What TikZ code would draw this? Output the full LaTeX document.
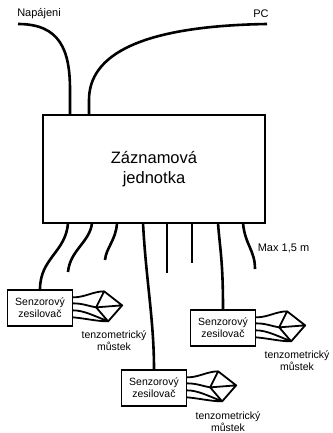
\documentclass[tikz,border=0pt]{standalone}
\usepackage{fontspec}
\setmainfont{Liberation Sans}
\begin{document}
\begin{tikzpicture}[x=1pt,y=-1pt,
  unit/.style={draw,line width=1.6pt,minimum width=222pt,minimum height=108pt,
    align=center,inner sep=0pt,font=\fontsize{16.5}{20}\selectfont},
  amp/.style={draw,line width=1.3pt,minimum width=65pt,minimum height=36pt,
    align=center,inner sep=0pt,font=\fontsize{10.5}{12}\selectfont},
  cable/.style={line width=2.6pt},
  lbl/.style={font=\fontsize{10.5}{12}\selectfont,align=center,inner sep=0pt},
  gauge/.pic={
    % strain gauge bridge fed by four leads from the amplifier's right side
    \coordinate (-T) at (31,2);
    \coordinate (-R) at (49,16);
    \coordinate (-B) at (35,32);
    \coordinate (-L) at (23,18);
    \draw[line width=1.8pt,line join=round]
      (0,8) .. controls (12,8) and (20,2) .. (-T)
      (0,14) .. controls (10,14) and (16,17) .. (-L)
      (0,21) .. controls (10,21) and (20,26) .. (-B)
      (0,28) .. controls (12,29) and (24,32) .. (-B)
      (-T) -- (-R) -- (-B) -- (-L) -- cycle
      (-L) -- (-R);
  },
]
\useasboundingbox (0,0) rectangle (332,433);

% recording unit
\node[unit] (main) at (154,169) {Záznamová\\jednotka};

% supply and PC cables
\node[lbl,font=\fontsize{11}{13}\selectfont] (napl) at (39,14) {Napájeni};
\node[lbl,font=\fontsize{11}{13}\selectfont] (pcl) at (261,14) {PC};
\coordinate (nap) at (18,24);
\coordinate (pc) at (267,24);
\coordinate (t1) at (70,115);
\coordinate (t2) at (89,115);
\draw[cable] (nap) .. controls (60,24) and (70,50) .. (70,90) -- (t1);
\draw[cable] (pc) .. controls (140,26) and (89,55) .. (89,100) -- (t2);

% sensor amplifiers
\node[amp] (amp1) at (40,308) {Senzorový\\zesilovač};
\node[amp] (amp2) at (223,328) {Senzorový\\zesilovač};
\node[amp] (amp3) at (154,388) {Senzorový\\zesilovač};

% measuring cables leaving the unit
\coordinate (b1) at (68,223);
\coordinate (b2) at (92,223);
\coordinate (b3) at (117,223);
\coordinate (b4) at (143,223);
\coordinate (b5) at (167,223);
\coordinate (b6) at (192,223);
\coordinate (b7) at (218,223);
\coordinate (b8) at (243,223);
\coordinate (e2) at (68,272);
\coordinate (e3) at (105,260);
\coordinate (e5) at (167,273);
\coordinate (e6) at (192,263);
\coordinate (e8) at (255,269);

\draw[cable] (b1) .. controls (66,252) and (40,258) .. (amp1.north);
\draw[cable] (b2) .. controls (90,242) and (70,250) .. (e2);
\draw[cable] (b3) .. controls (116,240) and (106,248) .. (e3);
\draw[cable] (b4) .. controls (146,280) and (154,320) .. (amp3.north);
\draw[cable] (b5) -- (e5);
\draw[cable] (b6) -- (e6);
\draw[cable] (b7) .. controls (220,250) and (223,260) .. (amp2.north);
\draw[cable] (b8) .. controls (245,245) and (255,250) .. (e8);

\node[lbl,font=\fontsize{11}{13}\selectfont] (maxl) at (283.5,248) {Max 1,5 m};

% strain gauge bridges
\pic (g1) at (amp1.north east) {gauge};
\pic (g2) at (amp2.north east) {gauge};
\pic (g3) at (amp3.north east) {gauge};

\node[lbl] (m1) at (114,341) {tenzometrický\\můstek};
\node[lbl] (m2) at (297,361) {tenzometrický\\můstek};
\node[lbl] (m3) at (228,422) {tenzometrický\\můstek};
\end{tikzpicture}
\end{document}
